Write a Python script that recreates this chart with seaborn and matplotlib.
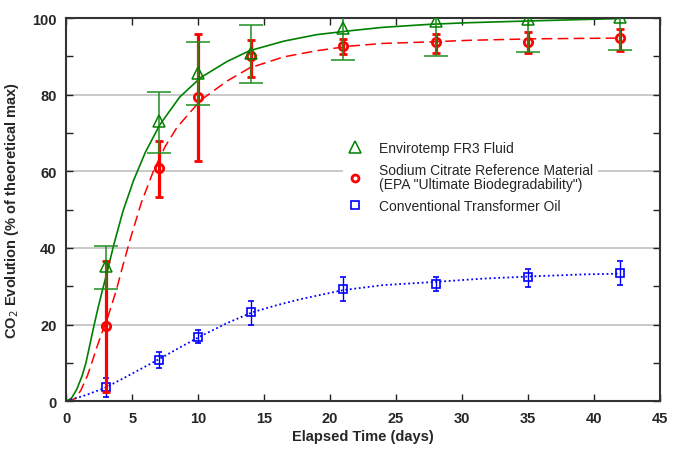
import numpy as np
import pandas as pd
import matplotlib
matplotlib.use("Agg")
import matplotlib.pyplot as plt
from matplotlib.ticker import MultipleLocator
from matplotlib.lines import Line2D
import seaborn as sns

# Measured points (days, % of theoretical CO2)
days = [3, 7, 10, 14, 21, 28, 35, 42]

fr3_mean = [35.2, 73.1, 85.7, 90.9, 97.5, 99.2, 99.7, 100.2]
fr3_low = [29.2, 64.7, 77.3, 83.2, 89.1, 90.0, 91.2, 91.7]
fr3_high = [40.5, 80.8, 93.8, 98.2, 104.0, 104.0, 104.0, 104.0]

citrate_mean = [19.7, 60.8, 79.4, 90.0, 92.8, 93.7, 93.9, 94.7]
citrate_low = [2.4, 53.3, 62.6, 84.6, 90.6, 91.0, 91.0, 91.3]
citrate_high = [36.5, 68.0, 95.8, 94.3, 94.5, 95.8, 96.5, 97.1]

oil_mean = [3.6, 10.7, 16.8, 23.2, 29.2, 30.5, 32.5, 33.4]
oil_low = [1.1, 8.6, 15.1, 19.8, 26.2, 28.8, 29.8, 30.3]
oil_high = [6.0, 12.9, 18.5, 26.2, 32.3, 32.3, 34.6, 36.6]

# Fitted curves
fr3_fit_days = [0, 0.4, 0.8, 1.2, 1.5, 1.8, 2.1, 2.4, 2.7, 3.1, 3.6, 4.3, 5.1, 6.0,
                7.1, 8.6, 10.2, 12.2, 13.9, 16.5, 19, 21.5, 24, 27.6, 30.4, 35.4, 42]
fr3_fit = [0, 0.8, 3.1, 6.6, 10.1, 14.9, 19.7, 24.2, 28.4, 33.7, 40.8, 49.6, 57.6, 65.0,
           72.2, 79.4, 84.5, 88.7, 91.5, 94.0, 95.7, 96.7, 97.6, 98.4, 98.8, 99.3, 99.9]

citrate_fit_days = [0, 0.4, 0.7, 1.1, 1.6, 2.0, 2.35, 2.7, 3.1, 3.8, 4.3, 4.85, 5.7,
                    6.6, 7.5, 8.4, 10.2, 12.2, 13.9, 16.5, 19, 21.5, 24, 27.6, 30.4,
                    35.4, 42]
citrate_fit = [0, 0.2, 0.8, 2.8, 6.6, 10.7, 14.4, 17.8, 21.4, 29.0, 35.5, 42.3, 51.9,
               60.0, 66.5, 71.5, 78.6, 83.6, 87.0, 89.9, 91.5, 92.7, 93.4, 93.8,
               94.2, 94.6, 94.8]

oil_fit_days = [0, 1.5, 3, 4.4, 5.75, 7.1, 8.6, 10.2, 12.2, 14.1, 15.9, 17.7, 21, 24,
                27.8, 31.6, 35.4, 39.2, 42]
oil_fit = [0, 1.6, 3.6, 6.1, 8.6, 11.1, 14.0, 17.0, 20.4, 23.2, 25.0, 26.6, 29.0,
           30.3, 31.1, 32.0, 32.6, 33.1, 33.3]

labels = [
    "Envirotemp FR3 Fluid",
    "Sodium Citrate Reference Material\n(EPA \"Ultimate Biodegradability\")",
    "Conventional Transformer Oil",
]

GREEN = "#008000"
GREEN_BAR = "#1f8f1f"
RED = "#ff0000"
BLUE = "#0000ff"

sns.set_theme(style="ticks")
plt.rcParams["font.family"] = ["Liberation Sans", "DejaVu Sans"]

fig = plt.figure(figsize=(6.83, 4.56), dpi=100)
ax = fig.add_axes([0.097, 0.118, 0.869, 0.840])

ax.yaxis.grid(True, color="#c0c0c0", linewidth=1.2)
ax.set_axisbelow(True)

# fitted curves
sns.lineplot(x=fr3_fit_days, y=fr3_fit, color=GREEN, linewidth=1.2, ax=ax, zorder=2)
sns.lineplot(x=citrate_fit_days, y=citrate_fit, color=RED, linewidth=1.1, ax=ax, zorder=2)
ax.lines[-1].set_dashes([7, 3.5])
sns.lineplot(x=oil_fit_days, y=oil_fit, color=BLUE, linewidth=1.3, ax=ax, zorder=2)
ax.lines[-1].set_linestyle((0, (1, 1.5)))


def asym(mean, low, high):
    m = np.array(mean)
    return [m - np.array(low), np.array(high) - m]


ax.errorbar(days, oil_mean, yerr=asym(oil_mean, oil_low, oil_high),
            fmt="s", ms=5.5, mfc="none", mec=BLUE, mew=1.2, ecolor=BLUE,
            elinewidth=1.0, capsize=2.5, capthick=1.0, zorder=3)
ax.errorbar(days, citrate_mean, yerr=asym(citrate_mean, citrate_low, citrate_high),
            fmt="o", ms=6, mfc="none", mec=RED, mew=2, ecolor=RED,
            elinewidth=2.3, capsize=3.2, capthick=2.3, zorder=4)
ax.errorbar(days, fr3_mean, yerr=asym(fr3_mean, fr3_low, fr3_high),
            fmt="^", ms=9, mfc="none", mec=GREEN, mew=1.1, ecolor=GREEN_BAR,
            elinewidth=1.1, capsize=8.3, capthick=1.1, zorder=5)

ax.set_xlim(0, 45)
ax.set_ylim(0, 100)
ax.xaxis.set_major_locator(MultipleLocator(5))
ax.yaxis.set_major_locator(MultipleLocator(20))
ax.yaxis.set_minor_locator(MultipleLocator(10))
ax.tick_params(axis="both", which="both", direction="in", top=True, right=True,
               length=5, width=1, color="#222222")
ax.tick_params(axis="both", which="major", labelsize=10.5, pad=7)
for lab in ax.get_xticklabels() + ax.get_yticklabels():
    lab.set_fontweight("bold")

for side in ["left", "bottom", "top", "right"]:
    ax.spines[side].set_color("#333333")
    ax.spines[side].set_linewidth(1.5)

ax.set_xlabel("Elapsed Time (days)", fontsize=10.5, fontweight="bold", labelpad=3)
ax.set_ylabel("CO$_2$ Evolution (% of theoretical max)", fontsize=10.5,
              fontweight="bold", labelpad=8)

handles = [
    Line2D([], [], ls="none", marker="^", ms=9, mfc="none", mec=GREEN, mew=1.1),
    Line2D([], [], ls="none", marker="o", ms=5, mfc="none", mec=RED, mew=2),
    Line2D([], [], ls="none", marker="s", ms=5.5, mfc="none", mec=BLUE, mew=1.2),
]
leg = ax.legend(handles, labels, loc="upper left", bbox_to_anchor=(0.454, 0.708),
                fontsize=10, frameon=True, facecolor="white", edgecolor="none",
                framealpha=1, handlelength=1.2, handletextpad=1.15, labelspacing=0.6,
                borderpad=0.3)
for t in leg.get_texts():
    t.set_linespacing(0.95)
leg.set_zorder(6)

fig.savefig("out.png", dpi=100, facecolor="white")
